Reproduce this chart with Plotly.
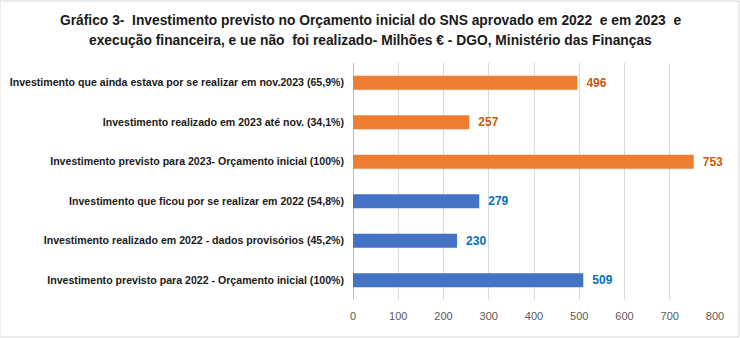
import plotly.graph_objects as go

# Categories listed bottom-to-top on the y axis
categories = [
    "Investimento previsto para 2022 - Orçamento inicial (100%)",
    "Investimento realizado em 2022 - dados provisórios (45,2%)",
    "Investimento que ficou por se realizar em 2022 (54,8%)",
    "Investimento previsto para 2023- Orçamento inicial (100%)",
    "Investimento realizado em 2023 até nov. (34,1%)",
    "Investimento que ainda estava por se realizar em nov.2023 (65,9%)",
]
values = [509, 230, 279, 753, 257, 496]
years = [2022, 2022, 2022, 2023, 2023, 2023]

x_ticks = [0, 100, 200, 300, 400, 500, 600, 700, 800]

title_lines = [
    "Gráfico 3-  Investimento previsto no Orçamento inicial do SNS aprovado em 2022  e em 2023  e",
    "execução financeira, e ue não  foi realizado- Milhões € - DGO, Ministério das Finanças",
]

BLUE = "#4472C4"
ORANGE = "#ED7D31"
BLUE_TXT = "#0070C0"
ORANGE_TXT = "#C55A11"

bar_colors = [BLUE if y == 2022 else ORANGE for y in years]
text_colors = [BLUE_TXT if y == 2022 else ORANGE_TXT for y in years]

FONT = "Liberation Sans, Arial, sans-serif"
H = 338

fig = go.Figure(
    go.Bar(
        x=values,
        y=categories,
        orientation="h",
        marker=dict(color=bar_colors, line=dict(width=0)),
        text=["\u2002<b>" + str(v) + "</b>" for v in values],
        textposition="outside",
        cliponaxis=False,
        textfont=dict(family=FONT, size=12, color=text_colors),
        hoverinfo="skip",
    )
)

# Two-line bold title, placed line by line for spacing control
title_annotations = [
    dict(
        text="<b>" + line + "</b>",
        xref="paper", yref="paper",
        x=0.5 - (353 - 25) / 2 / 362, y=1 + (63 - ypx) / 237,
        xanchor="center", yanchor="middle",
        showarrow=False,
        font=dict(family=FONT, size=13.8, color="#1a1a1a"),
    )
    for line, ypx in zip(title_lines, [20, 40])
]

fig.update_layout(
    width=740,
    height=H,
    margin=dict(l=353, r=25, t=63, b=38),
    paper_bgcolor="white",
    plot_bgcolor="white",
    bargap=0.64,
    showlegend=False,
    annotations=title_annotations,
    xaxis=dict(
        range=[0, 800],
        tickvals=x_ticks,
        ticktext=[str(t) for t in x_ticks],
        showgrid=True,
        gridcolor="#D9D9D9",
        gridwidth=1,
        zeroline=True,
        zerolinecolor="#BFBFBF",
        zerolinewidth=1,
        showline=False,
        ticks="",
        ticklabelstandoff=8,
        automargin=False,
        tickfont=dict(family=FONT, size=11, color="#595959"),
        fixedrange=True,
    ),
    yaxis=dict(
        showgrid=False,
        showline=False,
        ticks="",
        ticklabelstandoff=8,
        automargin=False,
        tickfont=dict(family=FONT, size=10.6, color="#1a1a1a"),
        tickprefix="<b>",
        ticksuffix="</b>",
        fixedrange=True,
    ),
    shapes=[
        dict(
            type="rect", xref="paper", yref="paper",
            x0=-353 / 362, x1=1 + 24 / 362, y0=-37 / 237, y1=1 + 62 / 237,
            line=dict(color="#D9D9D9", width=1),
        )
    ],
)

fig.write_html("out.html")
